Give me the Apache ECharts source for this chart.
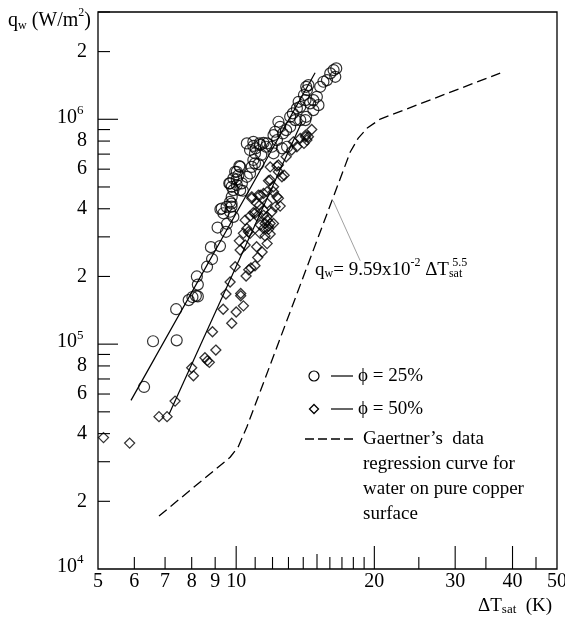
<!DOCTYPE html>
<html>
<head>
<meta charset="utf-8">
<script src="https://cdn.jsdelivr.net/npm/echarts@6/dist/echarts.min.js"></script>
<style>
  html, body { margin: 0; padding: 0; background: #fff; }
  #main { width: 565px; height: 619px; }
</style>
</head>
<body>
<div id="main"></div>
<script>
// axis ranges
const xMin = 5, xMax = 50;
const yMin = 1e4, yMax = 3e6;

// ticks and labels
const xTickLabels = [5, 6, 7, 8, 9, 10, 20, 30, 40, 50];
const xMajorTicks = [10, 20, 30, 40];
const xMidTicks = [15];
const xMinorTicks = [6, 7, 8, 9, 11, 12, 13, 14, 16, 17, 18, 19, 25, 35, 45];
const yMajorTicks = [1e5, 1e6];
const yMinorTicks = [2e4, 3e4, 4e4, 5e4, 6e4, 7e4, 8e4, 9e4,
  2e5, 3e5, 4e5, 5e5, 6e5, 7e5, 8e5, 9e5, 2e6, 3e6];
const yLabelValues = [2e4, 4e4, 6e4, 8e4, 2e5, 4e5, 6e5, 8e5, 2e6];
const yLabelTexts = ['2', '4', '6', '8', '2', '4', '6', '8', '2'];
const yPowerValues = [1e4, 1e5, 1e6];
const yPowerExps = ['4', '5', '6'];

// phi = 25% (circles)
const phi25 = [
  [6.30, 6.45e4], [6.59, 1.03e5], [7.42, 1.04e5], [7.40, 1.43e5], [7.88, 1.57e5],
  [8.03, 1.62e5], [8.17, 1.64e5], [8.25, 1.63e5], [8.25, 1.84e5], [8.21, 2.00e5],
  [8.64, 2.21e5], [8.86, 2.39e5], [8.81, 2.70e5], [9.22, 2.73e5], [9.11, 3.30e5],
  [9.50, 3.16e5], [9.55, 3.43e5], [9.24, 3.98e5], [9.70, 3.88e5], [9.77, 4.09e5],
  [9.77, 4.22e5], [9.30, 4.01e5],
  [9.66, 5.19e5], [9.78, 5.01e5], [10.03, 5.41e5], [10.11, 5.64e5], [10.16, 6.19e5],
  [9.95, 5.84e5], [10.34, 4.81e5], [10.55, 5.55e5], [10.72, 5.74e5], [10.81, 6.14e5],
  [10.99, 6.37e5], [10.72, 7.30e5], [10.90, 7.61e5], [11.03, 7.43e5], [11.24, 7.81e5],
  [11.47, 7.86e5], [11.61, 7.55e5], [11.34, 6.94e5], [12.06, 8.50e5], [12.16, 8.80e5],
  [12.36, 9.75e5], [12.47, 9.26e5], [12.64, 8.65e5], [12.27, 8.08e5], [12.06, 7.06e5],
  [12.58, 7.43e5], [12.91, 7.55e5], [13.11, 1.026e6], [13.29, 1.062e6], [13.45, 9.92e5],
  [13.56, 1.118e6], [13.79, 1.136e6], [13.68, 1.196e6], [14.16, 1.217e6], [14.05, 1.282e6],
  [14.26, 1.349e6], [14.37, 1.419e6], [14.21, 1.395e6], [14.49, 1.177e6], [14.73, 1.217e6],
  [14.99, 1.259e6], [15.11, 1.156e6], [14.73, 1.099e6], [14.15, 9.92e5], [15.24, 1.395e6],
  [15.49, 1.469e6], [15.77, 1.494e6], [16.03, 1.600e6], [16.30, 1.655e6], [16.44, 1.545e6],
  [16.52, 1.684e6], [13.11, 9.26e5], [12.85, 8.95e5], [13.79, 9.92e5], [14.21, 1.026e6],
  [10.55, 7.81e5], [10.90, 7.94e5], [11.28, 7.69e5], [11.68, 7.81e5], [11.96, 7.55e5],
  [10.99, 7.06e5], [10.03, 5.84e5], [10.20, 6.14e5], [9.86, 5.46e5], [9.70, 5.19e5],
  [10.03, 5.10e5], [10.29, 5.19e5], [9.86, 4.84e5], [10.20, 4.84e5], [9.78, 4.52e5],
  [9.70, 4.29e5], [9.53, 4.08e5], [9.38, 3.82e5], [9.86, 3.68e5], [10.90, 6.59e5],
  [11.18, 6.32e5]
];

// phi = 50% (diamonds)
const phi50 = [
  [5.14, 3.84e4], [5.86, 3.63e4], [6.79, 4.76e4], [7.07, 4.76e4], [7.36, 5.58e4],
  [8.00, 7.85e4], [8.07, 7.23e4], [8.55, 8.70e4], [8.65, 8.44e4], [8.74, 8.30e4],
  [9.03, 9.41e4], [8.88, 1.135e5], [9.78, 1.238e5], [9.37, 1.43e5], [10.00, 1.39e5],
  [10.23, 1.68e5], [10.23, 1.64e5], [10.37, 1.48e5], [9.50, 1.67e5], [9.70, 1.89e5],
  [9.95, 2.21e5], [10.51, 2.01e5], [10.65, 2.14e5], [10.77, 2.18e5], [10.99, 2.23e5],
  [11.14, 2.43e5], [11.39, 2.57e5], [11.68, 2.80e5], [11.08, 2.71e5], [11.28, 3.11e5],
  [11.56, 3.03e5], [11.86, 3.09e5], [11.76, 3.24e5], [11.47, 3.27e5], [11.56, 3.44e5],
  [11.68, 3.68e5], [11.86, 3.44e5], [11.96, 3.88e5], [12.16, 4.08e5], [12.47, 4.11e5],
  [11.11, 3.71e5], [10.90, 3.84e5], [11.24, 4.15e5], [10.20, 2.62e5], [10.16, 2.88e5],
  [10.46, 2.76e5], [10.37, 3.11e5], [10.63, 3.16e5], [10.46, 3.56e5], [10.72, 3.71e5],
  [11.86, 6.14e5], [12.27, 6.19e5], [11.86, 5.37e5], [12.58, 5.55e5], [10.81, 4.52e5],
  [11.08, 4.23e5], [11.18, 4.60e5], [11.47, 4.68e5], [11.68, 4.23e5], [11.47, 3.95e5],
  [12.06, 4.76e5], [12.36, 4.45e5], [10.99, 3.82e5], [11.47, 3.74e5], [11.68, 3.56e5],
  [11.76, 3.34e5], [11.28, 3.39e5], [10.72, 3.11e5], [10.55, 3.27e5], [12.85, 6.81e5],
  [13.21, 7.30e5], [13.56, 7.55e5], [13.79, 8.22e5], [14.16, 8.36e5], [14.26, 8.08e5],
  [14.61, 9.01e5], [13.32, 7.94e5], [12.36, 5.84e5], [11.76, 5.33e5], [12.06, 5.01e5],
  [11.68, 4.76e5], [11.28, 4.60e5], [10.81, 4.45e5], [12.72, 5.64e5], [12.36, 6.26e5],
  [12.27, 4.52e5], [12.06, 3.44e5], [14.16, 8.50e5], [14.05, 7.81e5], [14.37, 8.36e5]
];

// fitted lines
const fit25 = [[5.90, 5.62e4], [14.86, 1.61e6]];
const fit50 = [[7.14, 4.88e4], [13.93, 9.82e5]];

// Gaertner's regression curve
const gaertner = [
  [6.79, 1.72e4], [9.70, 3.14e4], [10.10, 3.49e4], [10.55, 4.28e4], [17.72, 7.15e5],
  [18.45, 8.25e5], [19.30, 9.14e5], [20.60, 1.002e6], [37.6, 1.605e6]
];
// leader line to the correlation label
const leader = [[16.27, 4.34e5], [18.63, 2.35e5]];

const FONT = '"Liberation Serif", "Times New Roman", serif';
const measureCtx = document.createElement('canvas').getContext('2d');
function textWidth(t, size) {
  measureCtx.font = size + 'px ' + FONT;
  return measureCtx.measureText(t).width;
}
// parts: [text, fontSize, dy, dx]
function scriptText(parts, x, y, align) {
  let total = 0;
  parts.forEach(p => { total += textWidth(p[0], p[1]) + (p[3] || 0); });
  let cx = align === 'right' ? x - total : x;
  return parts.map(p => {
    cx += p[3] || 0;
    const el = {
      type: 'text', x: cx, y: y + p[2],
      style: { text: p[0], font: p[1] + 'px ' + FONT, fill: '#000',
        align: 'left', verticalAlign: 'middle' }
    };
    cx += textWidth(p[0], p[1]);
    return el;
  });
}

function tickSeries(values, axis, len) {
  return {
    type: 'custom', silent: true, clip: false, z: 5,
    data: values.map(v => axis === 'x' ? [v, yMin] : [xMin, v]),
    renderItem: function (params, api) {
      const p = api.coord([api.value(0), api.value(1)]);
      const shape = axis === 'x'
        ? { x1: p[0], y1: p[1], x2: p[0], y2: p[1] - len }
        : { x1: p[0], y1: p[1], x2: p[0] + len, y2: p[1] };
      return { type: 'line', shape: shape, style: { stroke: '#000', lineWidth: 1.1 } };
    }
  };
}

const chart = echarts.init(document.getElementById('main'));

const option = {
  animation: false,
  backgroundColor: '#fff',
  grid: { left: 98, right: 8, top: 12, bottom: 50, show: true,
    borderColor: '#000', borderWidth: 1.3 },
  xAxis: {
    type: 'log', logBase: 10, min: xMin, max: xMax,
    axisLine: { show: false }, axisTick: { show: false },
    axisLabel: { show: false }, splitLine: { show: false }
  },
  yAxis: {
    type: 'log', logBase: 10, min: yMin, max: yMax,
    axisLine: { show: false }, axisTick: { show: false },
    axisLabel: { show: false }, splitLine: { show: false }
  },
  series: [
    {
      name: 'fit25', type: 'line', data: fit25, showSymbol: false, z: 2,
      lineStyle: { color: '#000', width: 1.2 }
    },
    {
      name: 'fit50', type: 'line', data: fit50, showSymbol: false, z: 2,
      lineStyle: { color: '#000', width: 1.2 }
    },
    {
      name: 'Gaertner', type: 'line', data: gaertner, showSymbol: false, z: 2,
      lineStyle: { color: '#000', width: 1.3, type: [10, 5] }
    },
    {
      name: 'leader', type: 'line', data: leader, showSymbol: false, z: 2,
      lineStyle: { color: '#888', width: 0.8 }
    },
    {
      name: 'φ = 25%', type: 'scatter', data: phi25, symbol: 'circle', symbolSize: 11, z: 3,
      itemStyle: { color: 'rgba(0,0,0,0)', borderColor: '#000', borderWidth: 1.2 }
    },
    {
      name: 'φ = 50%', type: 'scatter', data: phi50, symbol: 'diamond', symbolSize: 10, z: 3,
      itemStyle: { color: 'rgba(0,0,0,0)', borderColor: '#000', borderWidth: 1.3 }
    },
    tickSeries(xMajorTicks, 'x', 23),
    tickSeries(xMidTicks, 'x', 15),
    tickSeries(xMinorTicks, 'x', 12),
    tickSeries(yMajorTicks, 'y', 20),
    tickSeries(yMinorTicks, 'y', 12),
    {
      type: 'custom', silent: true, clip: false, z: 5,
      data: xTickLabels.map(v => [v, yMin]),
      renderItem: function (params, api) {
        const p = api.coord([api.value(0), api.value(1)]);
        return { type: 'text', x: p[0], y: p[1] + 13,
          style: { text: String(api.value(0)), font: '20px ' + FONT, fill: '#000',
            align: 'center', verticalAlign: 'middle' } };
      }
    },
    {
      type: 'custom', silent: true, clip: false, z: 5,
      data: yLabelValues.map(v => [xMin, v]),
      renderItem: function (params, api) {
        const p = api.coord([api.value(0), api.value(1)]);
        return { type: 'text', x: p[0] - 11, y: p[1],
          style: { text: yLabelTexts[params.dataIndex], font: '20px ' + FONT, fill: '#000',
            align: 'right', verticalAlign: 'middle' } };
      }
    },
    {
      type: 'custom', silent: true, clip: false, z: 5,
      data: yPowerValues.map(v => [xMin, v]),
      renderItem: function (params, api) {
        const p = api.coord([api.value(0), api.value(1)]);
        return { type: 'group', children: scriptText([
          ['10', 20, -2], [yPowerExps[params.dataIndex], 13, -9]
        ], p[0] - 41, p[1], 'left') };
      }
    }
  ],
  graphic: [
    { type: 'group', children: scriptText([
      ['q', 20, 0], ['w', 12, 5], [' (W/m', 20, 0], ['2', 12, -8], [')', 20, 0]
    ], 8, 21, 'left') },
    { type: 'group', children: scriptText([
      ['ΔT', 19, 0], ['sat', 13, 4], ['  (K)', 19, 0]
    ], 478, 606, 'left') },
    { type: 'group', children: scriptText([
      ['q', 19, 0], ['w', 12, 4], ['= 9.59x10', 19, 0], ['-2', 12, -7],
      [' ΔT', 19, 0], ['sat', 12, 4], ['5.5', 12, -7, -10]
    ], 315, 270, 'left') },
    // legend
    { type: 'circle', shape: { cx: 314, cy: 376, r: 5 },
      style: { fill: 'none', stroke: '#000', lineWidth: 1.2 } },
    { type: 'line', shape: { x1: 331, y1: 376, x2: 353, y2: 376 },
      style: { stroke: '#000', lineWidth: 1.2 } },
    { type: 'text', x: 358, y: 376, style: { text: 'ϕ = 25%', font: '19px ' + FONT,
      fill: '#000', align: 'left', verticalAlign: 'middle' } },
    { type: 'polygon', shape: { points: [[314, 404.5], [318.5, 409], [314, 413.5], [309.5, 409]] },
      style: { fill: 'none', stroke: '#000', lineWidth: 1.3 } },
    { type: 'line', shape: { x1: 331, y1: 409, x2: 353, y2: 409 },
      style: { stroke: '#000', lineWidth: 1.2 } },
    { type: 'text', x: 358, y: 409, style: { text: 'ϕ = 50%', font: '19px ' + FONT,
      fill: '#000', align: 'left', verticalAlign: 'middle' } },
    { type: 'line', shape: { x1: 305, y1: 439, x2: 353, y2: 439 },
      style: { stroke: '#000', lineWidth: 1.3, lineDash: [9, 4] } },
    { type: 'text', x: 363, y: 439, style: {
      text: 'Gaertner’s  data\nregression curve for\nwater on pure copper\nsurface',
      font: '19px ' + FONT, lineHeight: 25, fill: '#000', align: 'left', verticalAlign: 'top' },
      y: 427 }
  ]
};

chart.setOption(option);
</script>
</body>
</html>
